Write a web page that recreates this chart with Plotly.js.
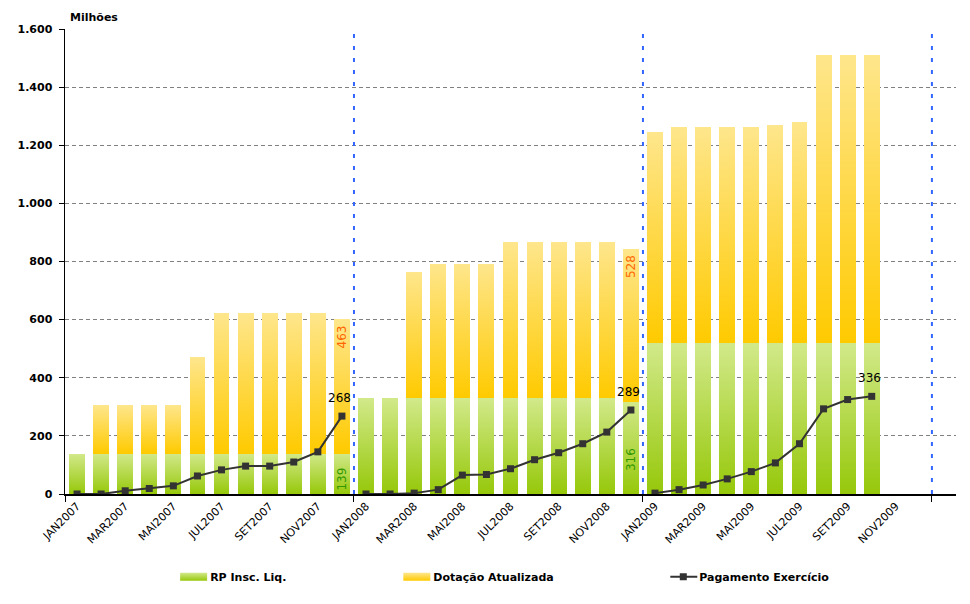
<!DOCTYPE html>
<html>
<head>
<meta charset="utf-8">
<script src="https://cdn.plot.ly/plotly-3.0.1.min.js"></script>
<style>
  html, body { margin: 0; padding: 0; background: #fff; }
  #chart { width: 970px; height: 604px; }
</style>
</head>
<body>
<div id="chart"></div>
<script>
// ---- data (Milhões) ----
const months = [
  'JAN2007','FEV2007','MAR2007','ABR2007','MAI2007','JUN2007','JUL2007','AGO2007','SET2007','OUT2007','NOV2007','DEZ2007',
  'JAN2008','FEV2008','MAR2008','ABR2008','MAI2008','JUN2008','JUL2008','AGO2008','SET2008','OUT2008','NOV2008','DEZ2008',
  'JAN2009','FEV2009','MAR2009','ABR2009','MAI2009','JUN2009','JUL2009','AGO2009','SET2009','OUT2009','NOV2009','DEZ2009'
];
const rpInscLiq = [
  139,139,139,139,139,139,139,139,139,139,139,139,
  329,329,329,329,329,329,329,329,329,329,329,316,
  518,518,518,518,518,518,518,518,518,518,null,null
];
const dotacaoAtualizada = [
  0,167,167,167,167,332,484,484,484,484,484,463,
  0,0,435,464,464,464,538,538,538,538,538,528,
  728,745,745,745,745,752,762,993,993,993,null,null
];
const pagamentoExercicio = [
  0,0,11,19,28,62,83,96,96,110,145,268,
  0,0,3,15,65,67,87,118,142,173,213,289,
  3,15,31,52,77,107,173,293,325,336,null,null
];
const yTickVals = [0,200,400,600,800,1000,1200,1400,1600];
const yTickText = ['0','200','400','600','800','1.000','1.200','1.400','1.600'];
// labelled points (month indexes)
const rpLabelIdx = [11, 23];
const dotLabelIdx = [11, 23];
const pagLabelIdx = [11, 23, 33];

const xIdx = months.map((_, i) => i);
const labelIdx = xIdx.filter(i => i % 2 === 0);
const FONT = 'DejaVu Sans, Verdana, sans-serif';

const traces = [
  {
    type: 'bar', name: 'RP Insc. Liq.', x: xIdx, y: rpInscLiq,
    width: 0.66, marker: { color: '#b5d84a', line: { width: 0 } },
    legend: 'legend', hoverinfo: 'skip'
  },
  {
    type: 'bar', name: 'Dotação Atualizada', x: xIdx, y: dotacaoAtualizada,
    width: 0.66, marker: { color: '#fdd84a', line: { width: 0 } },
    legend: 'legend2', hoverinfo: 'skip'
  }
];
// payment line: one segment per year (the line breaks at each year boundary)
[0, 1, 2].forEach(yr => {
  const xs = xIdx.slice(yr * 12, yr * 12 + 12);
  traces.push({
    type: 'scatter', mode: 'lines+markers', name: 'Pagamento Exercício',
    x: xs, y: xs.map(i => pagamentoExercicio[i]), connectgaps: false,
    line: { color: '#333333', width: 2 },
    marker: { symbol: 'square', size: 7, color: '#333333' },
    legend: 'legend3', legendgroup: 'pag', showlegend: yr === 0, hoverinfo: 'skip'
  });
});

const annotations = [
  { text: '<b>Milhões</b>', xref: 'paper', yref: 'paper', x: 0, y: 1, xanchor: 'left', yanchor: 'bottom',
    xshift: 3, yshift: 3, showarrow: false, font: { family: FONT, size: 11, color: '#000' } }
];
rpLabelIdx.forEach(i => annotations.push({
  text: String(rpInscLiq[i]), x: i, y: rpInscLiq[i] * 0.38, xref: 'x', yref: 'y',
  textangle: -90, showarrow: false, font: { family: FONT, size: 12, color: '#339900' }
}));
dotLabelIdx.forEach(i => annotations.push({
  text: String(dotacaoAtualizada[i]), x: i, y: rpInscLiq[i] + dotacaoAtualizada[i], xref: 'x', yref: 'y',
  yanchor: 'top', yshift: -4,
  textangle: -90, showarrow: false, font: { family: FONT, size: 12, color: '#ff6600' }
}));
pagLabelIdx.forEach(i => annotations.push({
  text: String(pagamentoExercicio[i]), x: i, y: pagamentoExercicio[i], xref: 'x', yref: 'y',
  yanchor: 'bottom', yshift: 9, xshift: -2,
  showarrow: false, font: { family: FONT, size: 12, color: '#000' }
}));

const shapes = [11.5, 23.5, 35.5].map(v => ({
  type: 'line', xref: 'x', yref: 'paper', x0: v, x1: v, y0: 0, y1: 1,
  line: { color: '#3366ff', width: 2, dash: '4px,8px' }
}));

const legendBase = {
  orientation: 'h', yanchor: 'middle', y: -0.178, xanchor: 'left',
  bgcolor: 'rgba(0,0,0,0)', borderwidth: 0,
  font: { family: FONT, size: 11, color: '#000', weight: 'bold' }
};

const layout = {
  width: 970, height: 604,
  margin: { l: 65, r: 14, t: 29, b: 110 },
  paper_bgcolor: '#fff', plot_bgcolor: '#fff',
  barmode: 'stack', bargap: 0.34,
  showlegend: true,
  legend: Object.assign({}, legendBase, { x: 0.118 }),
  legend2: Object.assign({}, legendBase, { x: 0.3685 }),
  legend3: Object.assign({}, legendBase, { x: 0.667 }),
  xaxis: {
    range: [-0.5, 36.5], tickmode: 'array', tickvals: labelIdx,
    ticktext: labelIdx.map(i => months[i]), tickangle: -45,
    ticks: '', showgrid: false, zeroline: false,
    showline: true, linecolor: '#000', linewidth: 1.5,
    tickfont: { family: FONT, size: 11, color: '#000' },
    minor: { tickmode: 'array', tickvals: [-0.5, 11.5, 23.5, 35.5], ticks: 'outside', ticklen: 6, tickcolor: '#000', tickwidth: 1, showgrid: false }
  },
  yaxis: {
    range: [0, 1600], tickmode: 'array', tickvals: yTickVals, ticktext: yTickText,
    showgrid: true, gridcolor: '#808080', griddash: '4px,3px', gridwidth: 1,
    zeroline: false, showline: true, linecolor: '#000', linewidth: 1.5,
    ticks: 'outside', ticklen: 5, tickcolor: '#000', ticklabelstandoff: 4,
    tickfont: { family: FONT, size: 11, color: '#000', weight: 'bold' }
  },
  annotations: annotations,
  shapes: shapes
};

const ns = 'http://www.w3.org/2000/svg';
function ensureDefs(gd) {
  const svg = gd.querySelector('.main-svg');
  if (!svg) return;
  let defs = svg.querySelector('defs');
  if (!defs) { defs = document.createElementNS(ns, 'defs'); svg.insertBefore(defs, svg.firstChild); }
  function grad(id, top, bottom) {
    if (document.getElementById(id)) return;
    const g = document.createElementNS(ns, 'linearGradient');
    g.setAttribute('id', id);
    g.setAttribute('x1', '0'); g.setAttribute('y1', '0');
    g.setAttribute('x2', '0'); g.setAttribute('y2', '1');
    [[0, top], [1, bottom]].forEach(([o, c]) => {
      const s = document.createElementNS(ns, 'stop');
      s.setAttribute('offset', o); s.setAttribute('stop-color', c);
      g.appendChild(s);
    });
    defs.appendChild(g);
  }
  grad('gGreen', '#d2e98a', '#96c80a');
  grad('gYellow', '#fee68c', '#ffca00');
}
function restyleSvg(gd) {
  ensureDefs(gd);
  const fills = ['url(#gGreen)', 'url(#gYellow)'];
  gd.querySelectorAll('.barlayer .trace').forEach((t, k) => {
    t.querySelectorAll('path').forEach(p => { if (p.style.fill !== fills[k]) p.style.fill = fills[k]; });
  });
  // legend symbols restyled like the original
  gd.querySelectorAll('g.traces').forEach(tr => {
    const txt = tr.querySelector('text');
    const name = txt ? (txt.textContent || '') : '';
    const isBar = !!tr.querySelector('.legendpoints .legendbar, .legendbar');
    if (isBar || name.indexOf('RP') === 0 || name.indexOf('Dota') === 0) {
      const f = name.indexOf('RP') === 0 ? 'url(#gGreen)' : 'url(#gYellow)';
      tr.querySelectorAll('.legendpoints path').forEach(p => {
        if (p.getAttribute('d') !== 'M-10,-4h27v8h-27z') p.setAttribute('d', 'M-10,-4h27v8h-27z');
        p.style.fill = f;
        p.style.stroke = 'none';
      });
    } else if (name.indexOf('Pagamento') === 0 || tr.querySelector('.legendlines')) {
      tr.querySelectorAll('.legendlines path').forEach(p => { if (p.getAttribute('d') !== 'M11,0h27') p.setAttribute('d', 'M11,0h27'); });
      tr.querySelectorAll('.legendpoints path').forEach(p => { if (p.getAttribute('transform') !== 'translate(24,0)') p.setAttribute('transform', 'translate(24,0)'); });
    }
  });
}

const gdEl = document.getElementById('chart');
const observer = new MutationObserver(() => restyleSvg(gdEl));
observer.observe(gdEl, { childList: true, subtree: true });

Plotly.newPlot(gdEl, traces, layout, { displayModeBar: false, staticPlot: true }).then(gd => {
  restyleSvg(gd);
  gd.on('plotly_afterplot', () => restyleSvg(gd));
});
</script>
</body>
</html>
